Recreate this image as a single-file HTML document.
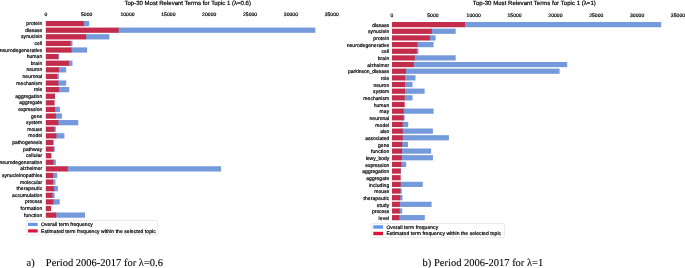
<!DOCTYPE html>
<html><head><meta charset="utf-8"><title>Top-30 Most Relevant Terms</title>
<style>
html,body{margin:0;padding:0;background:#fff;}
body{width:685px;height:268px;overflow:hidden;font-family:"Liberation Sans",sans-serif;}
#fig{position:absolute;left:0;top:0;width:685px;height:268px;will-change:transform;}
svg{display:block;}
text{white-space:pre;text-rendering:geometricPrecision;stroke:#000;stroke-width:0.2px;paint-order:stroke;}
text.cap{stroke-width:0.1px;}
</style></head><body>
<div id="fig"><svg width="685" height="268" viewBox="0 0 685 268">
<rect x="82.75" y="20.98" width="6.35" height="5.25" fill="#759adc"/>
<rect x="45.80" y="20.98" width="37.95" height="5.25" fill="#c32d4b"/>
<text x="42.20" y="25.15" font-size="5.0" text-anchor="end" font-family='"Liberation Sans", sans-serif' fill="#000" textLength="15.85" lengthAdjust="spacing">protein</text>
<rect x="117.60" y="27.58" width="197.70" height="5.25" fill="#759adc"/>
<rect x="45.80" y="27.58" width="72.80" height="5.25" fill="#c32d4b"/>
<text x="42.20" y="31.75" font-size="5.0" text-anchor="end" font-family='"Liberation Sans", sans-serif' fill="#000" textLength="16.94" lengthAdjust="spacing">disease</text>
<rect x="85.10" y="34.18" width="24.30" height="5.25" fill="#759adc"/>
<rect x="45.80" y="34.18" width="40.30" height="5.25" fill="#c32d4b"/>
<text x="42.20" y="38.36" font-size="5.0" text-anchor="end" font-family='"Liberation Sans", sans-serif' fill="#000" textLength="21.12" lengthAdjust="spacing">synuclein</text>
<rect x="69.70" y="40.79" width="2.80" height="5.25" fill="#759adc"/>
<rect x="45.80" y="40.79" width="24.90" height="5.25" fill="#c32d4b"/>
<text x="42.20" y="44.96" font-size="5.0" text-anchor="end" font-family='"Liberation Sans", sans-serif' fill="#000" textLength="7.67" lengthAdjust="spacing">cell</text>
<rect x="70.50" y="47.39" width="16.60" height="5.25" fill="#759adc"/>
<rect x="45.80" y="47.39" width="25.70" height="5.25" fill="#c32d4b"/>
<text x="42.20" y="51.57" font-size="5.0" text-anchor="end" font-family='"Liberation Sans", sans-serif' fill="#000" textLength="42.52" lengthAdjust="spacing">neurodegenerative</text>
<rect x="57.40" y="54.00" width="1.50" height="5.25" fill="#759adc"/>
<rect x="45.80" y="54.00" width="12.60" height="5.25" fill="#c32d4b"/>
<text x="42.20" y="58.17" font-size="5.0" text-anchor="end" font-family='"Liberation Sans", sans-serif' fill="#000" textLength="15.56" lengthAdjust="spacing">human</text>
<rect x="68.00" y="60.60" width="4.50" height="5.25" fill="#759adc"/>
<rect x="45.80" y="60.60" width="23.20" height="5.25" fill="#c32d4b"/>
<text x="42.20" y="64.77" font-size="5.0" text-anchor="end" font-family='"Liberation Sans", sans-serif' fill="#000" textLength="11.46" lengthAdjust="spacing">brain</text>
<rect x="57.90" y="67.20" width="8.30" height="5.25" fill="#759adc"/>
<rect x="45.80" y="67.20" width="13.10" height="5.25" fill="#c32d4b"/>
<text x="42.20" y="71.38" font-size="5.0" text-anchor="end" font-family='"Liberation Sans", sans-serif' fill="#000" textLength="15.69" lengthAdjust="spacing">neuron</text>
<rect x="56.20" y="73.81" width="2.70" height="5.25" fill="#759adc"/>
<rect x="45.80" y="73.81" width="11.40" height="5.25" fill="#c32d4b"/>
<text x="42.20" y="77.98" font-size="5.0" text-anchor="end" font-family='"Liberation Sans", sans-serif' fill="#000" textLength="19.66" lengthAdjust="spacing">neuronal</text>
<rect x="57.40" y="80.41" width="8.80" height="5.25" fill="#759adc"/>
<rect x="45.80" y="80.41" width="12.60" height="5.25" fill="#c32d4b"/>
<text x="42.20" y="84.59" font-size="5.0" text-anchor="end" font-family='"Liberation Sans", sans-serif' fill="#000" textLength="25.83" lengthAdjust="spacing">mechanism</text>
<rect x="57.90" y="87.02" width="11.30" height="5.25" fill="#759adc"/>
<rect x="45.80" y="87.02" width="13.10" height="5.25" fill="#c32d4b"/>
<text x="42.20" y="91.19" font-size="5.0" text-anchor="end" font-family='"Liberation Sans", sans-serif' fill="#000" textLength="8.45" lengthAdjust="spacing">role</text>
<rect x="53.90" y="93.62" width="1.20" height="5.25" fill="#759adc"/>
<rect x="45.80" y="93.62" width="9.10" height="5.25" fill="#c32d4b"/>
<text x="42.20" y="97.79" font-size="5.0" text-anchor="end" font-family='"Liberation Sans", sans-serif' fill="#000" textLength="26.98" lengthAdjust="spacing">aggregation</text>
<rect x="45.80" y="100.22" width="8.80" height="5.25" fill="#c32d4b"/>
<text x="42.20" y="104.40" font-size="5.0" text-anchor="end" font-family='"Liberation Sans", sans-serif' fill="#000" textLength="22.93" lengthAdjust="spacing">aggregate</text>
<rect x="54.10" y="106.83" width="5.80" height="5.25" fill="#759adc"/>
<rect x="45.80" y="106.83" width="9.30" height="5.25" fill="#c32d4b"/>
<text x="42.20" y="111.00" font-size="5.0" text-anchor="end" font-family='"Liberation Sans", sans-serif' fill="#000" textLength="24.06" lengthAdjust="spacing">expression</text>
<rect x="54.90" y="113.43" width="7.00" height="5.25" fill="#759adc"/>
<rect x="45.80" y="113.43" width="10.10" height="5.25" fill="#c32d4b"/>
<text x="42.20" y="117.61" font-size="5.0" text-anchor="end" font-family='"Liberation Sans", sans-serif' fill="#000" textLength="11.15" lengthAdjust="spacing">gene</text>
<rect x="57.40" y="120.03" width="20.90" height="5.25" fill="#759adc"/>
<rect x="45.80" y="120.03" width="12.60" height="5.25" fill="#c32d4b"/>
<text x="42.20" y="124.21" font-size="5.0" text-anchor="end" font-family='"Liberation Sans", sans-serif' fill="#000" textLength="16.12" lengthAdjust="spacing">system</text>
<rect x="53.40" y="126.64" width="2.50" height="5.25" fill="#759adc"/>
<rect x="45.80" y="126.64" width="8.60" height="5.25" fill="#c32d4b"/>
<text x="42.20" y="130.81" font-size="5.0" text-anchor="end" font-family='"Liberation Sans", sans-serif' fill="#000" textLength="14.97" lengthAdjust="spacing">mouse</text>
<rect x="55.40" y="133.24" width="9.00" height="5.25" fill="#759adc"/>
<rect x="45.80" y="133.24" width="10.60" height="5.25" fill="#c32d4b"/>
<text x="42.20" y="137.42" font-size="5.0" text-anchor="end" font-family='"Liberation Sans", sans-serif' fill="#000" textLength="13.89" lengthAdjust="spacing">model</text>
<rect x="51.90" y="139.85" width="2.00" height="5.25" fill="#759adc"/>
<rect x="45.80" y="139.85" width="7.10" height="5.25" fill="#c32d4b"/>
<text x="42.20" y="144.02" font-size="5.0" text-anchor="end" font-family='"Liberation Sans", sans-serif' fill="#000" textLength="29.90" lengthAdjust="spacing">pathogenesis</text>
<rect x="52.40" y="146.45" width="2.50" height="5.25" fill="#759adc"/>
<rect x="45.80" y="146.45" width="7.60" height="5.25" fill="#c32d4b"/>
<text x="42.20" y="150.63" font-size="5.0" text-anchor="end" font-family='"Liberation Sans", sans-serif' fill="#000" textLength="19.16" lengthAdjust="spacing">pathway</text>
<rect x="45.80" y="153.06" width="5.60" height="5.25" fill="#c32d4b"/>
<text x="42.20" y="157.23" font-size="5.0" text-anchor="end" font-family='"Liberation Sans", sans-serif' fill="#000" textLength="16.31" lengthAdjust="spacing">cellular</text>
<rect x="52.40" y="159.66" width="3.50" height="5.25" fill="#759adc"/>
<rect x="45.80" y="159.66" width="7.60" height="5.25" fill="#c32d4b"/>
<text x="42.20" y="163.83" font-size="5.0" text-anchor="end" font-family='"Liberation Sans", sans-serif' fill="#000" textLength="42.69" lengthAdjust="spacing">neurodegeneration</text>
<rect x="66.70" y="166.26" width="154.40" height="5.25" fill="#759adc"/>
<rect x="45.80" y="166.26" width="21.90" height="5.25" fill="#c32d4b"/>
<text x="42.20" y="170.44" font-size="5.0" text-anchor="end" font-family='"Liberation Sans", sans-serif' fill="#000" textLength="22.05" lengthAdjust="spacing">alzheimer</text>
<rect x="52.10" y="172.87" width="5.10" height="5.25" fill="#759adc"/>
<rect x="45.80" y="172.87" width="7.30" height="5.25" fill="#c32d4b"/>
<text x="42.20" y="177.04" font-size="5.0" text-anchor="end" font-family='"Liberation Sans", sans-serif' fill="#000" textLength="40.29" lengthAdjust="spacing">synucleinopathies</text>
<rect x="51.90" y="179.47" width="3.50" height="5.25" fill="#759adc"/>
<rect x="45.80" y="179.47" width="7.10" height="5.25" fill="#c32d4b"/>
<text x="42.20" y="183.65" font-size="5.0" text-anchor="end" font-family='"Liberation Sans", sans-serif' fill="#000" textLength="22.14" lengthAdjust="spacing">molecular</text>
<rect x="53.10" y="186.07" width="4.80" height="5.25" fill="#759adc"/>
<rect x="45.80" y="186.07" width="8.30" height="5.25" fill="#c32d4b"/>
<text x="42.20" y="190.25" font-size="5.0" text-anchor="end" font-family='"Liberation Sans", sans-serif' fill="#000" textLength="25.73" lengthAdjust="spacing">therapeutic</text>
<rect x="51.40" y="192.68" width="3.20" height="5.25" fill="#759adc"/>
<rect x="45.80" y="192.68" width="6.60" height="5.25" fill="#c32d4b"/>
<text x="42.20" y="196.85" font-size="5.0" text-anchor="end" font-family='"Liberation Sans", sans-serif' fill="#000" textLength="30.15" lengthAdjust="spacing">accumulation</text>
<rect x="52.40" y="199.28" width="7.30" height="5.25" fill="#759adc"/>
<rect x="45.80" y="199.28" width="7.60" height="5.25" fill="#c32d4b"/>
<text x="42.20" y="203.46" font-size="5.0" text-anchor="end" font-family='"Liberation Sans", sans-serif' fill="#000" textLength="17.14" lengthAdjust="spacing">process</text>
<rect x="45.80" y="205.89" width="5.30" height="5.25" fill="#c32d4b"/>
<text x="42.20" y="210.06" font-size="5.0" text-anchor="end" font-family='"Liberation Sans", sans-serif' fill="#000" textLength="21.68" lengthAdjust="spacing">formation</text>
<rect x="55.20" y="212.49" width="29.80" height="5.25" fill="#759adc"/>
<rect x="45.80" y="212.49" width="10.40" height="5.25" fill="#c32d4b"/>
<text x="42.20" y="216.67" font-size="5.0" text-anchor="end" font-family='"Liberation Sans", sans-serif' fill="#000" textLength="18.22" lengthAdjust="spacing">function</text>
<text x="45.80" y="16.25" font-size="5.0" text-anchor="middle" font-family='"Liberation Sans", sans-serif' fill="#000" textLength="2.84" lengthAdjust="spacing">0</text>
<text x="86.65" y="16.25" font-size="5.0" text-anchor="middle" font-family='"Liberation Sans", sans-serif' fill="#000" textLength="11.35" lengthAdjust="spacing">5000</text>
<text x="127.50" y="16.25" font-size="5.0" text-anchor="middle" font-family='"Liberation Sans", sans-serif' fill="#000" textLength="14.19" lengthAdjust="spacing">10000</text>
<text x="168.35" y="16.25" font-size="5.0" text-anchor="middle" font-family='"Liberation Sans", sans-serif' fill="#000" textLength="14.19" lengthAdjust="spacing">15000</text>
<text x="209.20" y="16.25" font-size="5.0" text-anchor="middle" font-family='"Liberation Sans", sans-serif' fill="#000" textLength="14.19" lengthAdjust="spacing">20000</text>
<text x="250.05" y="16.25" font-size="5.0" text-anchor="middle" font-family='"Liberation Sans", sans-serif' fill="#000" textLength="14.19" lengthAdjust="spacing">25000</text>
<text x="290.90" y="16.25" font-size="5.0" text-anchor="middle" font-family='"Liberation Sans", sans-serif' fill="#000" textLength="14.19" lengthAdjust="spacing">30000</text>
<text x="331.75" y="16.25" font-size="5.0" text-anchor="middle" font-family='"Liberation Sans", sans-serif' fill="#000" textLength="14.19" lengthAdjust="spacing">35000</text>
<text x="187.70" y="4.60" font-size="6.0" text-anchor="middle" font-family='"Liberation Sans", sans-serif' fill="#000" textLength="126.46" lengthAdjust="spacing">Top-30 Most Relevant Terms for Topic 1 (λ=0.6)</text>
<rect x="26.20" y="220.45" width="131.50" height="14.45" rx="0.9" fill="#fff" fill-opacity="0.8" stroke="#cccccc" stroke-opacity="0.8" stroke-width="0.55"/>
<rect x="28.00" y="222.80" width="9.70" height="3.15" fill="#6495ed"/>
<rect x="28.00" y="229.35" width="9.70" height="3.15" fill="#dc143c"/>
<text x="41.00" y="225.90" font-size="5.0" text-anchor="start" font-family='"Liberation Sans", sans-serif' fill="#000" textLength="51.74" lengthAdjust="spacing">Overall term frequency</text>
<text x="41.00" y="232.50" font-size="5.0" text-anchor="start" font-family='"Liberation Sans", sans-serif' fill="#000" textLength="114.67" lengthAdjust="spacing">Estimated term frequency within the selected topic</text>
<rect x="464.00" y="22.02" width="197.20" height="5.20" fill="#759adc"/>
<rect x="392.00" y="22.02" width="73.00" height="5.20" fill="#c32d4b"/>
<text x="389.20" y="26.82" font-size="5.0" text-anchor="end" font-family='"Liberation Sans", sans-serif' fill="#000" textLength="16.94" lengthAdjust="spacing">disease</text>
<rect x="430.80" y="28.68" width="24.90" height="5.20" fill="#759adc"/>
<rect x="392.00" y="28.68" width="39.80" height="5.20" fill="#c32d4b"/>
<text x="389.20" y="33.48" font-size="5.0" text-anchor="end" font-family='"Liberation Sans", sans-serif' fill="#000" textLength="21.12" lengthAdjust="spacing">synuclein</text>
<rect x="428.80" y="35.33" width="6.80" height="5.20" fill="#759adc"/>
<rect x="392.00" y="35.33" width="37.80" height="5.20" fill="#c32d4b"/>
<text x="389.20" y="40.13" font-size="5.0" text-anchor="end" font-family='"Liberation Sans", sans-serif' fill="#000" textLength="15.85" lengthAdjust="spacing">protein</text>
<rect x="416.50" y="41.99" width="17.10" height="5.20" fill="#759adc"/>
<rect x="392.00" y="41.99" width="25.50" height="5.20" fill="#c32d4b"/>
<text x="389.20" y="46.79" font-size="5.0" text-anchor="end" font-family='"Liberation Sans", sans-serif' fill="#000" textLength="42.52" lengthAdjust="spacing">neurodegenerative</text>
<rect x="415.80" y="48.64" width="2.70" height="5.20" fill="#759adc"/>
<rect x="392.00" y="48.64" width="24.80" height="5.20" fill="#c32d4b"/>
<text x="389.20" y="53.44" font-size="5.0" text-anchor="end" font-family='"Liberation Sans", sans-serif' fill="#000" textLength="7.67" lengthAdjust="spacing">cell</text>
<rect x="413.80" y="55.30" width="41.90" height="5.20" fill="#759adc"/>
<rect x="392.00" y="55.30" width="22.80" height="5.20" fill="#c32d4b"/>
<text x="389.20" y="60.10" font-size="5.0" text-anchor="end" font-family='"Liberation Sans", sans-serif' fill="#000" textLength="11.46" lengthAdjust="spacing">brain</text>
<rect x="412.80" y="61.96" width="154.40" height="5.20" fill="#759adc"/>
<rect x="392.00" y="61.96" width="21.80" height="5.20" fill="#c32d4b"/>
<text x="389.20" y="66.76" font-size="5.0" text-anchor="end" font-family='"Liberation Sans", sans-serif' fill="#000" textLength="22.05" lengthAdjust="spacing">alzheimer</text>
<rect x="405.00" y="68.61" width="154.60" height="5.20" fill="#759adc"/>
<rect x="392.00" y="68.61" width="14.00" height="5.20" fill="#c32d4b"/>
<text x="389.20" y="73.41" font-size="5.0" text-anchor="end" font-family='"Liberation Sans", sans-serif' fill="#000" textLength="41.09" lengthAdjust="spacing">parkinson_disease</text>
<rect x="404.00" y="75.27" width="11.50" height="5.20" fill="#759adc"/>
<rect x="392.00" y="75.27" width="13.00" height="5.20" fill="#c32d4b"/>
<text x="389.20" y="80.07" font-size="5.0" text-anchor="end" font-family='"Liberation Sans", sans-serif' fill="#000" textLength="8.45" lengthAdjust="spacing">role</text>
<rect x="404.00" y="81.92" width="8.50" height="5.20" fill="#759adc"/>
<rect x="392.00" y="81.92" width="13.00" height="5.20" fill="#c32d4b"/>
<text x="389.20" y="86.72" font-size="5.0" text-anchor="end" font-family='"Liberation Sans", sans-serif' fill="#000" textLength="15.69" lengthAdjust="spacing">neuron</text>
<rect x="404.00" y="88.58" width="20.60" height="5.20" fill="#759adc"/>
<rect x="392.00" y="88.58" width="13.00" height="5.20" fill="#c32d4b"/>
<text x="389.20" y="93.38" font-size="5.0" text-anchor="end" font-family='"Liberation Sans", sans-serif' fill="#000" textLength="16.12" lengthAdjust="spacing">system</text>
<rect x="403.70" y="95.24" width="8.80" height="5.20" fill="#759adc"/>
<rect x="392.00" y="95.24" width="12.70" height="5.20" fill="#c32d4b"/>
<text x="389.20" y="100.04" font-size="5.0" text-anchor="end" font-family='"Liberation Sans", sans-serif' fill="#000" textLength="25.83" lengthAdjust="spacing">mechanism</text>
<rect x="392.00" y="101.89" width="12.70" height="5.20" fill="#c32d4b"/>
<text x="389.20" y="106.69" font-size="5.0" text-anchor="end" font-family='"Liberation Sans", sans-serif' fill="#000" textLength="15.56" lengthAdjust="spacing">human</text>
<rect x="402.70" y="108.55" width="30.90" height="5.20" fill="#759adc"/>
<rect x="392.00" y="108.55" width="11.70" height="5.20" fill="#c32d4b"/>
<text x="389.20" y="113.35" font-size="5.0" text-anchor="end" font-family='"Liberation Sans", sans-serif' fill="#000" textLength="9.72" lengthAdjust="spacing">may</text>
<rect x="402.50" y="115.20" width="2.20" height="5.20" fill="#759adc"/>
<rect x="392.00" y="115.20" width="11.50" height="5.20" fill="#c32d4b"/>
<text x="389.20" y="120.00" font-size="5.0" text-anchor="end" font-family='"Liberation Sans", sans-serif' fill="#000" textLength="19.66" lengthAdjust="spacing">neuronal</text>
<rect x="401.70" y="121.86" width="6.50" height="5.20" fill="#759adc"/>
<rect x="392.00" y="121.86" width="10.70" height="5.20" fill="#c32d4b"/>
<text x="389.20" y="126.66" font-size="5.0" text-anchor="end" font-family='"Liberation Sans", sans-serif' fill="#000" textLength="13.89" lengthAdjust="spacing">model</text>
<rect x="401.70" y="128.52" width="31.20" height="5.20" fill="#759adc"/>
<rect x="392.00" y="128.52" width="10.70" height="5.20" fill="#c32d4b"/>
<text x="389.20" y="133.32" font-size="5.0" text-anchor="end" font-family='"Liberation Sans", sans-serif' fill="#000" textLength="9.02" lengthAdjust="spacing">also</text>
<rect x="401.70" y="135.17" width="47.20" height="5.20" fill="#759adc"/>
<rect x="392.00" y="135.17" width="10.70" height="5.20" fill="#c32d4b"/>
<text x="389.20" y="139.97" font-size="5.0" text-anchor="end" font-family='"Liberation Sans", sans-serif' fill="#000" textLength="23.86" lengthAdjust="spacing">associated</text>
<rect x="401.20" y="141.83" width="6.80" height="5.20" fill="#759adc"/>
<rect x="392.00" y="141.83" width="10.20" height="5.20" fill="#c32d4b"/>
<text x="389.20" y="146.63" font-size="5.0" text-anchor="end" font-family='"Liberation Sans", sans-serif' fill="#000" textLength="11.15" lengthAdjust="spacing">gene</text>
<rect x="401.00" y="148.48" width="30.10" height="5.20" fill="#759adc"/>
<rect x="392.00" y="148.48" width="10.00" height="5.20" fill="#c32d4b"/>
<text x="389.20" y="153.28" font-size="5.0" text-anchor="end" font-family='"Liberation Sans", sans-serif' fill="#000" textLength="18.22" lengthAdjust="spacing">function</text>
<rect x="400.70" y="155.14" width="32.20" height="5.20" fill="#759adc"/>
<rect x="392.00" y="155.14" width="9.70" height="5.20" fill="#c32d4b"/>
<text x="389.20" y="159.94" font-size="5.0" text-anchor="end" font-family='"Liberation Sans", sans-serif' fill="#000" textLength="23.53" lengthAdjust="spacing">lewy_body</text>
<rect x="400.40" y="161.80" width="5.80" height="5.20" fill="#759adc"/>
<rect x="392.00" y="161.80" width="9.40" height="5.20" fill="#c32d4b"/>
<text x="389.20" y="166.60" font-size="5.0" text-anchor="end" font-family='"Liberation Sans", sans-serif' fill="#000" textLength="24.06" lengthAdjust="spacing">expression</text>
<rect x="399.70" y="168.45" width="1.20" height="5.20" fill="#759adc"/>
<rect x="392.00" y="168.45" width="8.70" height="5.20" fill="#c32d4b"/>
<text x="389.20" y="173.25" font-size="5.0" text-anchor="end" font-family='"Liberation Sans", sans-serif' fill="#000" textLength="26.98" lengthAdjust="spacing">aggregation</text>
<rect x="392.00" y="175.11" width="8.70" height="5.20" fill="#c32d4b"/>
<text x="389.20" y="179.91" font-size="5.0" text-anchor="end" font-family='"Liberation Sans", sans-serif' fill="#000" textLength="22.93" lengthAdjust="spacing">aggregate</text>
<rect x="399.70" y="181.76" width="23.10" height="5.20" fill="#759adc"/>
<rect x="392.00" y="181.76" width="8.70" height="5.20" fill="#c32d4b"/>
<text x="389.20" y="186.56" font-size="5.0" text-anchor="end" font-family='"Liberation Sans", sans-serif' fill="#000" textLength="20.31" lengthAdjust="spacing">including</text>
<rect x="399.40" y="188.42" width="2.30" height="5.20" fill="#759adc"/>
<rect x="392.00" y="188.42" width="8.40" height="5.20" fill="#c32d4b"/>
<text x="389.20" y="193.22" font-size="5.0" text-anchor="end" font-family='"Liberation Sans", sans-serif' fill="#000" textLength="14.97" lengthAdjust="spacing">mouse</text>
<rect x="399.20" y="195.08" width="3.30" height="5.20" fill="#759adc"/>
<rect x="392.00" y="195.08" width="8.20" height="5.20" fill="#c32d4b"/>
<text x="389.20" y="199.88" font-size="5.0" text-anchor="end" font-family='"Liberation Sans", sans-serif' fill="#000" textLength="25.73" lengthAdjust="spacing">therapeutic</text>
<rect x="398.90" y="201.73" width="32.70" height="5.20" fill="#759adc"/>
<rect x="392.00" y="201.73" width="7.90" height="5.20" fill="#c32d4b"/>
<text x="389.20" y="206.53" font-size="5.0" text-anchor="end" font-family='"Liberation Sans", sans-serif' fill="#000" textLength="12.37" lengthAdjust="spacing">study</text>
<rect x="398.70" y="208.39" width="3.50" height="5.20" fill="#759adc"/>
<rect x="392.00" y="208.39" width="7.70" height="5.20" fill="#c32d4b"/>
<text x="389.20" y="213.19" font-size="5.0" text-anchor="end" font-family='"Liberation Sans", sans-serif' fill="#000" textLength="17.14" lengthAdjust="spacing">process</text>
<rect x="398.40" y="215.04" width="26.40" height="5.20" fill="#759adc"/>
<rect x="392.00" y="215.04" width="7.40" height="5.20" fill="#c32d4b"/>
<text x="389.20" y="219.84" font-size="5.0" text-anchor="end" font-family='"Liberation Sans", sans-serif' fill="#000" textLength="10.61" lengthAdjust="spacing">level</text>
<text x="392.00" y="17.35" font-size="5.0" text-anchor="middle" font-family='"Liberation Sans", sans-serif' fill="#000" textLength="2.84" lengthAdjust="spacing">0</text>
<text x="432.85" y="17.35" font-size="5.0" text-anchor="middle" font-family='"Liberation Sans", sans-serif' fill="#000" textLength="11.35" lengthAdjust="spacing">5000</text>
<text x="473.70" y="17.35" font-size="5.0" text-anchor="middle" font-family='"Liberation Sans", sans-serif' fill="#000" textLength="14.19" lengthAdjust="spacing">10000</text>
<text x="514.55" y="17.35" font-size="5.0" text-anchor="middle" font-family='"Liberation Sans", sans-serif' fill="#000" textLength="14.19" lengthAdjust="spacing">15000</text>
<text x="555.40" y="17.35" font-size="5.0" text-anchor="middle" font-family='"Liberation Sans", sans-serif' fill="#000" textLength="14.19" lengthAdjust="spacing">20000</text>
<text x="596.25" y="17.35" font-size="5.0" text-anchor="middle" font-family='"Liberation Sans", sans-serif' fill="#000" textLength="14.19" lengthAdjust="spacing">25000</text>
<text x="637.10" y="17.35" font-size="5.0" text-anchor="middle" font-family='"Liberation Sans", sans-serif' fill="#000" textLength="14.19" lengthAdjust="spacing">30000</text>
<text x="677.95" y="17.35" font-size="5.0" text-anchor="middle" font-family='"Liberation Sans", sans-serif' fill="#000" textLength="14.19" lengthAdjust="spacing">35000</text>
<text x="534.30" y="5.20" font-size="6.0" text-anchor="middle" font-family='"Liberation Sans", sans-serif' fill="#000" textLength="122.93" lengthAdjust="spacing">Top-30 Most Relevant Terms for Topic 1 (λ=1)</text>
<rect x="371.90" y="223.40" width="132.70" height="14.20" rx="0.9" fill="#fff" fill-opacity="0.8" stroke="#cccccc" stroke-opacity="0.8" stroke-width="0.55"/>
<rect x="373.30" y="225.30" width="9.70" height="3.40" fill="#6495ed"/>
<rect x="373.30" y="231.80" width="9.70" height="3.40" fill="#dc143c"/>
<text x="386.40" y="228.70" font-size="5.0" text-anchor="start" font-family='"Liberation Sans", sans-serif' fill="#000" textLength="51.74" lengthAdjust="spacing">Overall term frequency</text>
<text x="386.40" y="235.20" font-size="5.0" text-anchor="start" font-family='"Liberation Sans", sans-serif' fill="#000" textLength="114.67" lengthAdjust="spacing">Estimated term frequency within the selected topic</text>
<text class="cap" x="26.6" y="265.6" font-size="10.5" font-family='"Liberation Serif", serif' fill="#000">a)</text>
<text class="cap" x="45.8" y="265.6" font-size="10.5" font-family='"Liberation Serif", serif' fill="#000">Period 2006-2017 for λ=0.6</text>
<text class="cap" x="422.6" y="265.6" font-size="10.5" font-family='"Liberation Serif", serif' fill="#000">b) Period 2006-2017 for λ=1</text>
</svg></div>
</body></html>
